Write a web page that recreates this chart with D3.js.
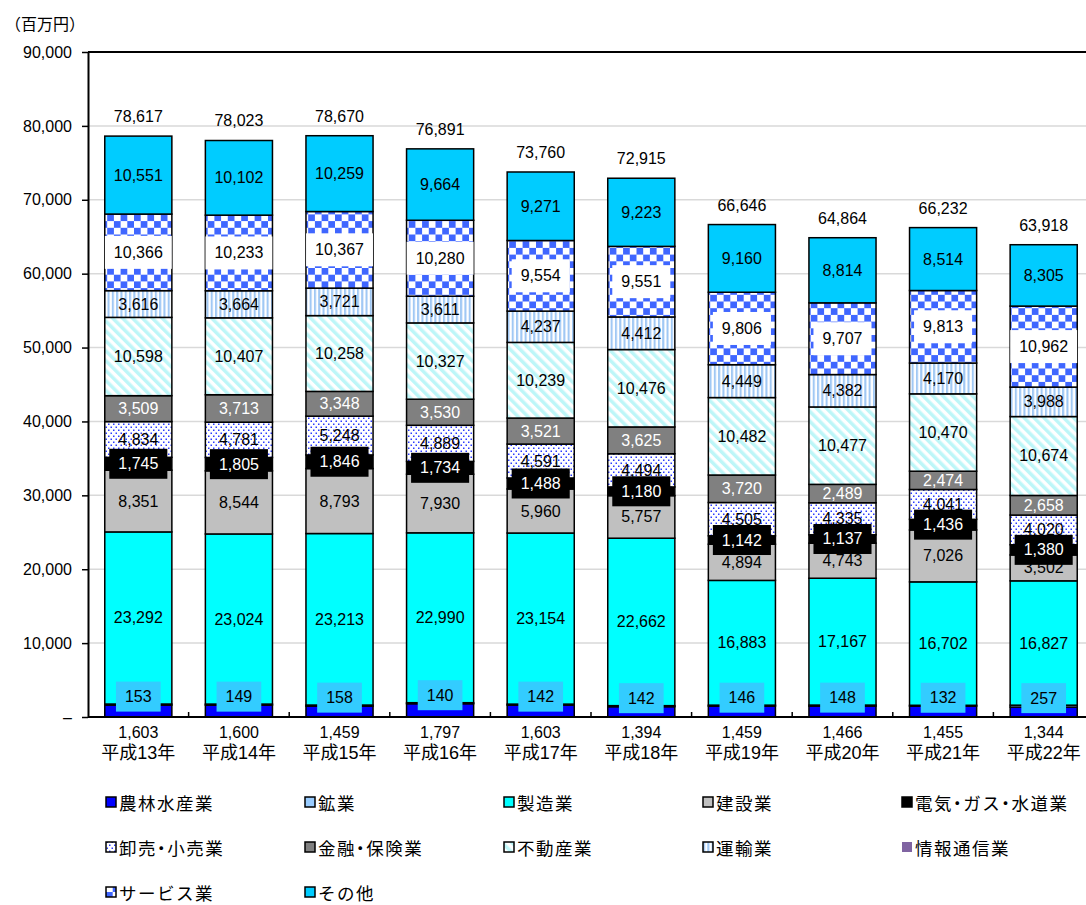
<!DOCTYPE html>
<html>
<head>
<meta charset="utf-8">
<script src="https://cdn.jsdelivr.net/npm/d3@7/dist/d3.min.js"></script>
<style>
body { margin: 0; background: #fff; }
svg text { font-family: "Liberation Sans", "Noto Sans CJK JP", sans-serif; }
</style>
</head>
<body>
<div id="chart"></div>
<script>
// 年度
var years = ["平成13年", "平成14年", "平成15年", "平成16年", "平成17年", "平成18年", "平成19年", "平成20年", "平成21年", "平成22年"];

// 産業別（百万円）
var agri      = [1603, 1600, 1459, 1797, 1603, 1394, 1459, 1466, 1455, 1344];
var mining    = [153, 149, 158, 140, 142, 142, 146, 148, 132, 257];
var manuf     = [23292, 23024, 23213, 22990, 23154, 22662, 16883, 17167, 16702, 16827];
var constr    = [8351, 8544, 8793, 7930, 5960, 5757, 4894, 4743, 7026, 3502];
var utility   = [1745, 1805, 1846, 1734, 1488, 1180, 1142, 1137, 1436, 1380];
var retail    = [4834, 4781, 5248, 4889, 4591, 4494, 4505, 4335, 4041, 4020];
var finance   = [3509, 3713, 3348, 3530, 3521, 3625, 3720, 2489, 2474, 2658];
var realty    = [10598, 10407, 10258, 10327, 10239, 10476, 10482, 10477, 10470, 10674];
var transport = [3616, 3664, 3721, 3611, 4237, 4412, 4449, 4382, 4170, 3988];
var info      = [0, 0, 0, 0, 0, 0, 0, 0, 0, 0];
var service   = [10366, 10233, 10367, 10280, 9554, 9551, 9806, 9707, 9813, 10962];
var other     = [10551, 10102, 10259, 9664, 9271, 9223, 9160, 8814, 8514, 8305];
var totals    = [78617, 78023, 78670, 76891, 73760, 72915, 66646, 64864, 66232, 63918];

var yTicks = [0, 10000, 20000, 30000, 40000, 50000, 60000, 70000, 80000, 90000];

var series = [
	{key: "agri", name: "農林水産業", values: agri, fill: "#0000FF"},
	{key: "mining", name: "鉱業", values: mining, fill: "#99CCFF"},
	{key: "manuf", name: "製造業", values: manuf, fill: "#00FFFF"},
	{key: "constr", name: "建設業", values: constr, fill: "#C0C0C0"},
	{key: "utility", name: "電気・ガス・水道業", values: utility, fill: "#000000"},
	{key: "retail", name: "卸売・小売業", values: retail, fill: "url(#pDots)"},
	{key: "finance", name: "金融・保険業", values: finance, fill: "#808080"},
	{key: "realty", name: "不動産業", values: realty, fill: "url(#pDiag)"},
	{key: "transport", name: "運輸業", values: transport, fill: "url(#pVert)"},
	{key: "info", name: "情報通信業", values: info, fill: "#8064A2"},
	{key: "service", name: "サービス業", values: service, fill: "url(#pCheck)"},
	{key: "other", name: "その他", values: other, fill: "#00CCFF"}
];

var W = 1086, H = 905;
var mLeft = 88, mTop = 52, plotW = 1006, plotH = 665;

var svg = d3.select("#chart").append("svg")
	.attr("width", W)
	.attr("height", H);

// パターン
var defs = svg.append("defs");
var p = defs.append("pattern").attr("id", "pDots").attr("patternUnits", "userSpaceOnUse")
	.attr("width", 5).attr("height", 6);
p.append("rect").attr("width", 5).attr("height", 6).attr("fill", "#fff");
p.append("rect").attr("x", 0.5).attr("y", 0.5).attr("width", 1.5).attr("height", 1.5).attr("fill", "#2B3BFF");
p.append("rect").attr("x", 3).attr("y", 3.5).attr("width", 1.5).attr("height", 1.5).attr("fill", "#2B3BFF");

p = defs.append("pattern").attr("id", "pDiag").attr("patternUnits", "userSpaceOnUse")
	.attr("width", 7).attr("height", 7).attr("patternTransform", "rotate(-45)");
p.append("rect").attr("width", 7).attr("height", 7).attr("fill", "#fff");
p.append("rect").attr("width", 3.5).attr("height", 7).attr("fill", "#BDF6F8");

p = defs.append("pattern").attr("id", "pVert").attr("patternUnits", "userSpaceOnUse")
	.attr("width", 4.3).attr("height", 4);
p.append("rect").attr("width", 4.3).attr("height", 4).attr("fill", "#fff");
p.append("rect").attr("width", 2.1).attr("height", 4).attr("fill", "#A0C8F4");

p = defs.append("pattern").attr("id", "pCheck").attr("patternUnits", "userSpaceOnUse")
	.attr("width", 13.4).attr("height", 13.4);
p.append("rect").attr("width", 13.4).attr("height", 13.4).attr("fill", "#fff");
p.append("rect").attr("width", 6.7).attr("height", 6.7).attr("fill", "#3F66FF");
p.append("rect").attr("x", 6.7).attr("y", 6.7).attr("width", 6.7).attr("height", 6.7).attr("fill", "#3F66FF");

var x = d3.scaleBand().domain(years).range([mLeft, mLeft + plotW])
	.paddingInner(0.333).paddingOuter(0.1667);
var y = d3.scaleLinear().domain([0, 90000]).range([mTop + plotH, mTop]);

// 単位
svg.append("text").attr("x", 5).attr("y", 24)
	.attr("dominant-baseline", "central")
	.style("font-size", "16px")
	.text("（百万円）");

// グリッド
svg.append("g").selectAll("line").data(yTicks.filter(function (d) { return d > 0; }))
	.enter().append("line")
	.attr("x1", mLeft).attr("x2", W)
	.attr("y1", function (d) { return y(d); })
	.attr("y2", function (d) { return y(d); })
	.attr("stroke", function (d) { return d === 90000 ? "#000" : "#D9D9D9"; })
	.attr("stroke-width", function (d) { return d === 90000 ? 2 : 1.5; });

// Y軸
var yAxis = d3.axisLeft(y).tickValues(yTicks).tickSize(6).tickSizeOuter(0).tickPadding(10)
	.tickFormat(function (d) { return d === 0 ? "–" : d3.format(",")(d); });
var gy = svg.append("g").attr("transform", "translate(" + mLeft + ",0)").call(yAxis);
gy.select(".domain").attr("stroke", "#000").attr("stroke-width", 2);
gy.selectAll(".tick line").attr("stroke", "#000").attr("stroke-width", 1.5);
gy.selectAll(".tick text").style("font-size", "16px").attr("fill", "#000")
	.style("font-family", "\"Liberation Sans\", sans-serif");

// 積み上げ
var table = years.map(function (yr, i) {
	var row = {year: yr};
	series.forEach(function (s) { row[s.key] = s.values[i]; });
	return row;
});
var stack = d3.stack().keys(series.map(function (s) { return s.key; }));
var layers = stack(table);

var gBars = svg.append("g");
layers.forEach(function (layer, li) {
	gBars.append("g").selectAll("rect").data(layer).enter().append("rect")
		.attr("x", function (d) { return x(d.data.year); })
		.attr("width", x.bandwidth())
		.attr("y", function (d) { return y(d[1]); })
		.attr("height", function (d) { return y(d[0]) - y(d[1]); })
		.attr("fill", series[li].fill)
		.attr("stroke", function (d) { return d[1] - d[0] > 0 ? "#000" : "none"; })
		.attr("stroke-width", 1.5);
});

// X軸
svg.append("line")
	.attr("x1", mLeft).attr("x2", mLeft + plotW)
	.attr("y1", y(0)).attr("y2", y(0))
	.attr("stroke", "#000").attr("stroke-width", 2);
svg.append("g").selectAll("line").data(years.slice(1)).enter().append("line")
	.attr("x1", function (d) { return x(d) - x.step() * x.paddingInner() / 2; })
	.attr("x2", function (d) { return x(d) - x.step() * x.paddingInner() / 2; })
	.attr("y1", y(0)).attr("y2", y(0) - 5)
	.attr("stroke", "#000").attr("stroke-width", 1.5);

// データラベル
var boxStyle = {
	mining: {fill: "#33CCFF", h: 30, dy: -8},
	utility: {fill: "#000000", h: 30, dy: 0},
	service: {fill: "#FFFFFF", h: 33, dy: 0}
};
var gLab = svg.append("g");
layers.forEach(function (layer, li) {
	var s = series[li];
	if (s.key === "agri") return;
	layer.forEach(function (d) {
		var v = d[1] - d[0];
		if (v <= 0) return;
		var cx = x(d.data.year) + x.bandwidth() / 2;
		var cy = (y(d[0]) + y(d[1])) / 2;
		var bs = boxStyle[s.key];
		if (bs) cy += bs.dy;
		var g = gLab.append("g");
		var box = g.append("rect");
		var t = g.append("text")
			.attr("x", cx).attr("y", cy)
			.attr("text-anchor", "middle")
			.attr("dominant-baseline", "central")
			.style("font-size", "16px")
			.attr("fill", (s.key === "finance" || s.key === "utility") ? "#fff" : "#000")
			.text(d3.format(",")(v));
		if (bs) {
			var w = t.node().getComputedTextLength() + 18;
			box.attr("x", cx - w / 2).attr("y", cy - bs.h / 2)
				.attr("width", w).attr("height", bs.h)
				.attr("fill", bs.fill);
		} else {
			box.remove();
		}
	});
});

// 合計
svg.append("g").selectAll("text").data(years).enter().append("text")
	.attr("x", function (d) { return x(d) + x.bandwidth() / 2; })
	.attr("y", function (d, i) { return y(totals[i]) - 14; })
	.attr("text-anchor", "middle")
	.style("font-size", "16px")
	.text(function (d, i) { return d3.format(",")(totals[i]); });

// カテゴリラベル（農林水産業の値＋年度）
var gCat = svg.append("g");
gCat.selectAll("text.agri").data(years).enter().append("text")
	.attr("class", "agri")
	.attr("x", function (d) { return x(d) + x.bandwidth() / 2; })
	.attr("y", 732)
	.attr("text-anchor", "middle")
	.attr("dominant-baseline", "central")
	.style("font-size", "16px")
	.text(function (d, i) { return d3.format(",")(agri[i]); });
gCat.selectAll("text.yr").data(years).enter().append("text")
	.attr("class", "yr")
	.attr("x", function (d) { return x(d) + x.bandwidth() / 2; })
	.attr("y", 753)
	.attr("text-anchor", "middle")
	.attr("dominant-baseline", "central")
	.style("font-size", "18px")
	.text(function (d) { return d; });

// 凡例
var legend = svg.append("g").selectAll("g").data(series).enter().append("g")
	.attr("transform", function (d, i) {
		var col = i % 5, row = Math.floor(i / 5);
		return "translate(" + (106 + col * 199) + "," + (802 + row * 45) + ")";
	});
legend.append("rect")
	.attr("x", 0).attr("y", -5).attr("width", 10).attr("height", 10)
	.attr("fill", function (d) { return d.fill; })
	.attr("stroke", function (d) { return d.key === "info" ? "none" : "#000"; })
	.attr("stroke-width", 1.5);
legend.append("text")
	.attr("x", 13).attr("y", 0)
	.attr("dominant-baseline", "central")
	.style("font-size", "17.5px")
	.style("letter-spacing", "1.5px")
	.style("font-family", "\"Noto Sans CJK JP\", sans-serif")
	.style("font-feature-settings", "\"halt\"")
	.text(function (d) { return d.name; });
</script>
</body>
</html>
